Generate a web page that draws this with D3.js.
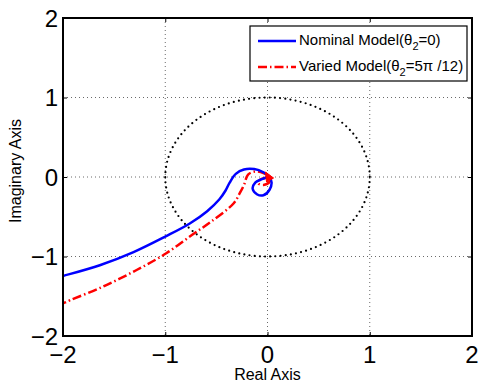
<!DOCTYPE html>
<html>
<head>
<meta charset="utf-8">
<script src="https://cdn.jsdelivr.net/npm/d3@7"></script>
<style>
  body { margin: 0; background: white; }
  text { font-family: "Liberation Sans", Arial, sans-serif; }
</style>
</head>
<body>
<svg id="chart" width="482" height="384"></svg>
<script>
// tick values
const xTicks = [-2, -1, 0, 1, 2];
const yTicks = [-2, -1, 0, 1, 2];

// nominal model (theta2 = 0)
const nominalRe = [-2.1, -2, -1.64, -1.31, -1, -0.76, -0.59, -0.47, -0.41, -0.37, -0.31, -0.23, -0.13, -0.04, 0.02, 0.04, 0.02, -0.04, -0.10, -0.145, -0.12, -0.06, -0.02, 0];
const nominalIm = [-1.28, -1.245, -1.11, -0.945, -0.75, -0.585, -0.43, -0.28, -0.17, -0.07, 0.04, 0.095, 0.10, 0.06, 0.0, -0.07, -0.16, -0.23, -0.22, -0.15, -0.07, -0.03, -0.01, 0];

// varied model (theta2 = 5pi/12)
const variedRe = [-2.05, -2, -1.93, -1.61, -1.28, -0.99, -0.74, -0.55, -0.33, -0.27, -0.23, -0.19, -0.12, -0.04, 0.02, 0.02, -0.04, -0.09, -0.07, -0.02, 0];
const variedIm = [-1.62, -1.59, -1.55, -1.38, -1.17, -0.96, -0.73, -0.56, -0.33, -0.20, -0.10, 0.03, 0.07, 0.05, 0.0, -0.06, -0.10, -0.08, -0.03, -0.01, 0];

const arrowAt = [0.02, 0];

const svg = d3.select("#chart");
const width = 482;
const height = 384;
const margin = { top: 18, right: 10, bottom: 48, left: 63 };
const chartWidth = width - margin.left - margin.right;
const chartHeight = height - margin.top - margin.bottom;

const chart = svg.append("g")
    .attr("transform", `translate(${margin.left}, ${margin.top})`);

const xScale = d3.scaleLinear().domain([-2, 2]).range([0, chartWidth]);
const yScale = d3.scaleLinear().domain([-2, 2]).range([chartHeight, 0]);

svg.append("defs").append("clipPath").attr("id", "clip")
    .append("rect").attr("width", chartWidth).attr("height", chartHeight);

// grid
chart.append("g")
    .selectAll("line")
    .data(xTicks.slice(1, -1))
    .enter().append("line")
    .attr("x1", d => xScale(d)).attr("x2", d => xScale(d))
    .attr("y1", 0).attr("y2", chartHeight)
    .attr("stroke", "#444").attr("stroke-width", 0.8)
    .attr("stroke-dasharray", "1,3");

chart.append("g")
    .selectAll("line")
    .data(yTicks.slice(1, -1))
    .enter().append("line")
    .attr("y1", d => yScale(d)).attr("y2", d => yScale(d))
    .attr("x1", 0).attr("x2", chartWidth)
    .attr("stroke", "#444").attr("stroke-width", 0.8)
    .attr("stroke-dasharray", "1,3");

// unit circle
chart.append("ellipse")
    .attr("cx", xScale(0)).attr("cy", yScale(0))
    .attr("rx", xScale(1) - xScale(0))
    .attr("ry", yScale(-1) - yScale(0))
    .attr("fill", "none")
    .attr("stroke", "black")
    .attr("stroke-width", 2.2)
    .attr("stroke-linecap", "round")
    .attr("stroke-dasharray", "0,5.2");

const line = d3.line()
    .x(d => xScale(d[0]))
    .y(d => yScale(d[1]))
    .curve(d3.curveCatmullRom.alpha(0.5));

const plotArea = chart.append("g").attr("clip-path", "url(#clip)");

plotArea.append("path")
    .datum(variedRe.map((r, i) => [r, variedIm[i]]))
    .attr("d", line)
    .attr("fill", "none")
    .attr("stroke", "red")
    .attr("stroke-width", 2.5)
    .attr("stroke-dasharray", "9,3,1.5,3");

plotArea.append("path")
    .datum(nominalRe.map((r, i) => [r, nominalIm[i]]))
    .attr("d", line)
    .attr("fill", "none")
    .attr("stroke", "blue")
    .attr("stroke-width", 2.5);

// arrow head
const ax = xScale(arrowAt[0]);
const ay = yScale(arrowAt[1]);
chart.append("path")
    .attr("d", `M${ax + 4},${ay + 1} L${ax - 4},${ay - 5} L${ax - 3},${ay + 5} Z`)
    .attr("fill", "red")
    .attr("stroke", "red")
    .attr("stroke-width", 1);

// box and ticks
chart.append("rect")
    .attr("width", chartWidth).attr("height", chartHeight)
    .attr("fill", "none").attr("stroke", "black").attr("stroke-width", 2);

const tickLen = 4;
chart.append("g")
    .call(d3.axisBottom(xScale).tickValues(xTicks).tickSize(-tickLen).tickFormat(""))
    .attr("transform", `translate(0, ${chartHeight})`)
    .call(g => g.select(".domain").remove());
chart.append("g")
    .call(d3.axisTop(xScale).tickValues(xTicks).tickSize(-tickLen).tickFormat(""))
    .call(g => g.select(".domain").remove());
chart.append("g")
    .call(d3.axisLeft(yScale).tickValues(yTicks).tickSize(-tickLen).tickFormat(""))
    .call(g => g.select(".domain").remove());
chart.append("g")
    .attr("transform", `translate(${chartWidth}, 0)`)
    .call(d3.axisRight(yScale).tickValues(yTicks).tickSize(-tickLen).tickFormat(""))
    .call(g => g.select(".domain").remove());

const fmt = d => d < 0 ? "\u2212" + Math.abs(d) : String(d);

chart.append("g")
    .selectAll("text")
    .data(xTicks)
    .enter().append("text")
    .attr("x", d => xScale(d))
    .attr("y", chartHeight + 27)
    .attr("text-anchor", "middle")
    .style("font-size", "24px")
    .text(fmt);

chart.append("g")
    .selectAll("text")
    .data(yTicks)
    .enter().append("text")
    .attr("x", -5)
    .attr("y", d => yScale(d) + 8.5)
    .attr("text-anchor", "end")
    .style("font-size", "24px")
    .text(fmt);

svg.append("text")
    .attr("x", margin.left + chartWidth / 2)
    .attr("y", 380)
    .attr("text-anchor", "middle")
    .style("font-size", "16px")
    .text("Real Axis");

svg.append("text")
    .attr("transform", `translate(21, ${margin.top + chartHeight / 2 - 6}) rotate(-90)`)
    .attr("text-anchor", "middle")
    .style("font-size", "16px")
    .text("Imaginary Axis");

// legend
const legend = svg.append("g");
legend.append("rect")
    .attr("x", 250).attr("y", 26).attr("width", 217).attr("height", 55)
    .attr("fill", "white").attr("stroke", "black").attr("stroke-width", 1.2);

const legendItems = [
    { color: "blue", dash: null, label: "Nominal Model(\u03b8", sub: "2", rest: "=0)", y: 41 },
    { color: "red", dash: "9,3,1.5,3", label: "Varied Model(\u03b8", sub: "2", rest: "=5\u03c0 /12)", y: 67 }
];

legendItems.forEach(it => {
    legend.append("line")
        .attr("x1", 258).attr("x2", 296)
        .attr("y1", it.y).attr("y2", it.y)
        .attr("stroke", it.color).attr("stroke-width", 2.5)
        .attr("stroke-dasharray", it.dash);
    const t = legend.append("text")
        .attr("x", 299).attr("y", it.y + 4)
        .style("font-size", "15px");
    t.append("tspan").text(it.label);
    t.append("tspan").attr("dy", 5).style("font-size", "11px").text(it.sub);
    t.append("tspan").attr("dy", -5).text(it.rest);
});
</script>
</body>
</html>
